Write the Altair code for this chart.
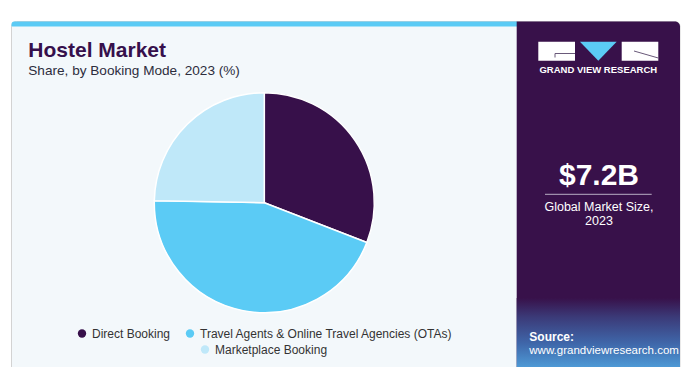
import altair as alt
import pandas as pd

# ---- data ----
booking_modes = ["Direct Booking", "Travel Agents & Online Travel Agencies (OTAs)", "Marketplace Booking"]
shares = [30.9, 44.4, 24.7]
slice_colors = ["#37104a", "#5bcbf5", "#bfe8f9"]

title_text = "Hostel Market"
subtitle_text = "Share, by Booking Mode, 2023 (%)"
market_size = "$7.2B"
market_label = ["Global Market Size,", "2023"]
brand = "GRAND VIEW RESEARCH"
source_lines = ["Source:", "www.grandviewresearch.com"]

df = pd.DataFrame({"mode": booking_modes, "share": shares, "order": list(range(len(shares)))})
one = pd.DataFrame({"k": [0]})

W, H = 684, 359
CX, CY, R = 256.3, 194.7, 110
FONT = "Liberation Sans"
PURPLE = "#38114a"

def box(x, x2, y, y2, **kw):
    return alt.Chart(one).mark_rect(**kw).encode(
        x=alt.value(x), x2=alt.value(x2), y=alt.value(y), y2=alt.value(y2))

def txt(s, x, y, **kw):
    return alt.Chart(one).mark_text(font=FONT, baseline="alphabetic", **kw).encode(
        x=alt.value(x), y=alt.value(y), text=alt.value(s))

def rule(x, x2, y, y2, **kw):
    return alt.Chart(one).mark_rule(**kw).encode(
        x=alt.value(x), x2=alt.value(x2), y=alt.value(y), y2=alt.value(y2))

# ---- decorations ----
card = box(3.5, 672, 13.5, 366, fill="#f3f8fb", stroke="#d3d3d3", strokeWidth=1, cornerRadius=5)
topbar = box(3.5, 509, 13.5, 18.5, fill="#5bcbf5", cornerRadiusTopLeft=5)
panel = box(508.7, 672, 13.5, 366, fill=PURPLE, cornerRadiusTopRight=5)
panel_grad = box(508.7, 672, 290, 366, color=alt.Gradient(
    gradient="linear", x1=0, y1=0, x2=0, y2=1,
    stops=[alt.GradientStop(offset=0, color=PURPLE),
           alt.GradientStop(offset=0.25, color="#3b3a78"),
           alt.GradientStop(offset=0.6, color="#3f67aa"),
           alt.GradientStop(offset=1, color="#52a8e2")]))

logo_l = box(530.3, 567, 33.7, 52.7, fill="white")
logo_r = box(613.7, 650.3, 33.7, 52.7, fill="white")
logo_g1 = rule(547, 567, 45.5, 45.5, color="#6a5a7a", strokeWidth=1)
logo_g2 = rule(547, 547, 45.5, 49.5, color="#6a5a7a", strokeWidth=1)
logo_rd = rule(626, 650.3, 43, 50, color="#6a5a7a", strokeWidth=1)
logo_tri = alt.Chart(one).mark_point(
    shape="M-1,-0.52 L1,-0.52 L0,0.52 Z", filled=True, opacity=1, size=1347, color="#5bcbf5"
).encode(x=alt.value(590.3), y=alt.value(43.2))

texts = [
    txt(title_text, 20.3, 48.7, fontSize=21, fontWeight=900, color="#36104c", align="left"),
    txt(subtitle_text, 20.3, 67, fontSize=13.6, color="#2d2d3d", align="left"),
    txt(brand, 590.3, 65.3, fontSize=9.5, fontWeight="bold", color="white", align="center"),
    txt(market_size, 591, 177, fontSize=30, fontWeight="bold", color="white", align="center"),
    rule(537, 643.7, 186.3, 186.3, color="#b8aec4", strokeWidth=1),
    txt(market_label[0], 591, 203, fontSize=12.5, color="white", align="center"),
    txt(market_label[1], 591, 217, fontSize=12.5, color="white", align="center"),
    txt(source_lines[0], 521.3, 333, fontSize=12, fontWeight="bold", color="white", align="left"),
    txt(source_lines[1], 521.3, 346, fontSize=11.5, color="white", align="left"),
]

# ---- pie (two layers so the legend can have two rows) ----
theta_scale = alt.Scale(domain=[0, 100])

def pie_layer(modes, colors, lx, ly):
    return alt.Chart(df).transform_window(
        cum="sum(share)", sort=[alt.SortField("order")], frame=[None, 0]
    ).transform_calculate(
        start="datum.cum - datum.share"
    ).transform_filter(
        alt.FieldOneOfPredicate(field="mode", oneOf=modes)
    ).mark_arc(outerRadius=R, stroke="white", strokeWidth=1.5).encode(
        theta=alt.Theta("start:Q", scale=theta_scale),
        theta2="cum:Q",
        x=alt.value(CX), y=alt.value(CY),
        color=alt.Color("mode:N", scale=alt.Scale(domain=modes, range=colors),
                        legend=alt.Legend(title=None, orient="none", legendX=lx, legendY=ly,
                                          direction="horizontal", symbolType="circle",
                                          symbolSize=70, symbolStrokeWidth=0,
                                          labelFont=FONT, labelFontSize=12, labelColor="#333333",
                                          labelLimit=400, columnPadding=13, labelOffset=4)),
    )

pieA = pie_layer(booking_modes[:2], slice_colors[:2], 68, 319.5)
pieB = pie_layer(booking_modes[2:], slice_colors[2:], 191, 335.5)

chart = alt.layer(
    card, topbar, panel, panel_grad, logo_l, logo_r, logo_g1, logo_g2, logo_rd, logo_tri,
    *texts, pieA, pieB
).resolve_scale(color="independent").properties(
    width=W, height=H, padding=0, autosize=alt.AutoSizeParams(type="none"), background="white"
).configure_view(stroke=None)

chart.save("out.html", embed_options={"renderer": "svg", "actions": False})
